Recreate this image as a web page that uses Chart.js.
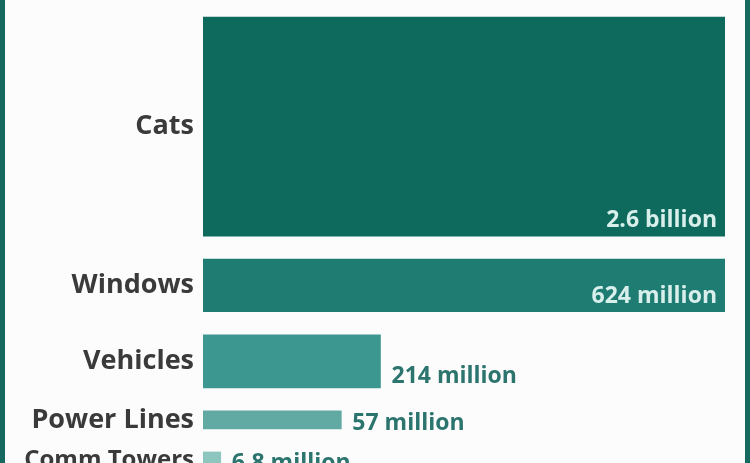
<!DOCTYPE html>
<html>
<head>
<meta charset="utf-8">
<script src="https://cdn.jsdelivr.net/npm/chart.js@4.4.1/dist/chart.umd.min.js"></script>
<style>
    html, body { margin: 0; padding: 0; background: #fdfcfd; }
    #frame {
        width: 740px; height: 463px;
        border-left: 5px solid #15695e;
        border-right: 5px solid #15695e;
        background: #fdfcfd;
        overflow: hidden;
    }
</style>
</head>
<body>
<div id="frame"><canvas id="birdChart" width="740" height="463"></canvas></div>
<script>
// Annual bird deaths by cause (millions)
const categories = ['Cats', 'Windows', 'Vehicles', 'Power Lines', 'Comm Towers'];
const birdDeaths = [2600, 624, 214, 57, 6.8];
const valueLabels = ['2.6 billion', '624 million', '214 million', '57 million', '6.8 million'];
// bar length as share of the full width (area shows the value)
const barLengthShare = [1, 1, 0.34, 0.265, 0.034];

const barColors = ['#0f6a5e', '#1e7c73', '#3c9791', '#61aaa4', '#8dc5bf'];

document.addEventListener('DOMContentLoaded', function() {
    const canvas = document.getElementById('birdChart');
    if (!canvas) return;

    const plotWidth = 522;     // width of chart area in px
    const areaPerMillion = 44; // px² of bar per million birds
    const firstTop = 17;
    const gap = 23;

    // thickness from value, so the bar area stands for the count
    const thickness = birdDeaths.map((v, i) => v * areaPerMillion / (barLengthShare[i] * plotWidth));
    const centers = [];
    let top = firstTop;
    thickness.forEach(t => {
        centers.push(top + t / 2);
        top += t + gap;
    });

    const valueLabelPlugin = {
        id: 'valueLabels',
        afterDatasetsDraw(chart) {
            const ctx = chart.ctx;
            chart.data.datasets.forEach((ds, i) => {
                const bar = chart.getDatasetMeta(i).data[0];
                if (!bar) return;
                const bottom = bar.y + bar.height / 2;
                ctx.save();
                ctx.font = '700 23px "Open Sans"';
                if (barLengthShare[i] >= 1) {
                    // full-width bars get the label inside
                    ctx.fillStyle = '#d8efec';
                    ctx.textAlign = 'right';
                    ctx.fillText(valueLabels[i], bar.x - 8, bottom - 9);
                } else {
                    ctx.fillStyle = '#2b756e';
                    ctx.textAlign = 'left';
                    const baseline = Math.max(bar.y + 10, bottom - 5);
                    ctx.fillText(valueLabels[i], bar.x + 11, baseline);
                }
                ctx.restore();
            });
        }
    };

    new Chart(canvas, {
        type: 'bar',
        data: {
            datasets: categories.map((name, i) => ({
                label: name,
                data: [{ x: barLengthShare[i], y: centers[i] }],
                backgroundColor: barColors[i],
                borderWidth: 0,
                barThickness: thickness[i],
                grouped: false
            }))
        },
        options: {
            indexAxis: 'y',
            responsive: false,
            animation: false,
            devicePixelRatio: 1,
            layout: { autoPadding: false, padding: { left: 0, right: 20, top: 0, bottom: 0 } },
            scales: {
                x: { type: 'linear', display: false, min: 0, max: 1 },
                y: {
                    type: 'linear',
                    reverse: true,
                    offset: false,
                    min: 0,
                    max: 463,
                    grid: { display: false, drawTicks: false },
                    border: { display: false },
                    afterFit: function(scale) {
                        scale.width = 198;
                        scale.paddingTop = 0;
                        scale.paddingBottom = 0;
                    },
                    afterBuildTicks: function(scale) {
                        scale.ticks = centers.map(v => ({ value: v }));
                    },
                    ticks: {
                        autoSkip: false,
                        padding: 9,
                        color: '#3a3a3a',
                        font: function(context) {
                            // last label is long, keep it inside the frame
                            return { family: '"Open Sans"', size: context.index === 4 ? 24 : 27, weight: '700' };
                        },
                        callback: function(value, index) { return categories[index]; }
                    }
                }
            },
            plugins: {
                legend: { display: false },
                tooltip: { enabled: false },
                title: { display: false }
            }
        },
        plugins: [valueLabelPlugin]
    });
});
</script>
</body>
</html>
